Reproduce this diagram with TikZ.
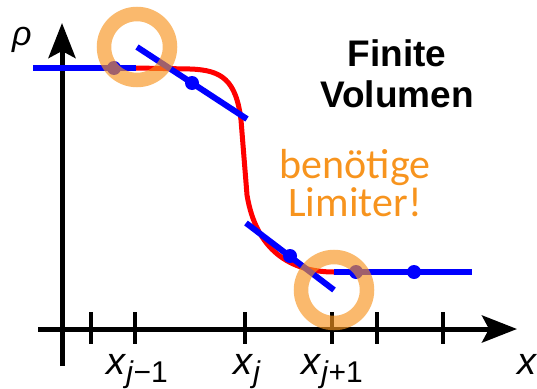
\documentclass[tikz,border=0pt]{standalone}
\usepackage{fontspec}
\setmainfont{Liberation Sans}
\newfontfamily\limfont{Carlito}
\usetikzlibrary{arrows.meta}
\definecolor{limorange}{RGB}{247,148,30}
\newcommand{\gridx}[1]{\textit{x}\raisebox{-8pt}{\fontsize{30}{30}\selectfont #1}}

\begin{document}
\begin{tikzpicture}[
        x=1pt, y=-1pt,
        axis/.style={line width=5pt, -{Stealth[length=35pt, width=27pt, inset=7pt]}},
        tick/.style={line width=4pt},
        exact/.style={red, line width=5pt},
        recon/.style={blue, line width=6pt},
        cellval/.style={blue},
        ring/.style={limorange, line width=14.5pt, opacity=0.65},
        lab/.style={font=\fontsize{38}{38}\selectfont, inner sep=0pt},
        title/.style={font=\bfseries\fontsize{37}{41}\selectfont, align=center, inner sep=0pt},
        note/.style={font=\limfont\fontsize{42}{42}\selectfont, text=limorange, inner sep=0pt, anchor=base},
    ]
        \useasboundingbox (0,0) rectangle (537,388);

        % axes and grid
        \draw[axis] (62,366) -- (62,23);
        \draw[axis] (38,329) -- (517,329);
        \foreach \t in {90.7,135,245,332,377,443}
            \draw[tick] (\t,312) -- (\t,344);

        \node[lab, anchor=base west] (rho) at (12,45) {\fontsize{34}{34}\selectfont\textit{ρ}};
        \node[lab, anchor=base west] (xlab) at (517,374) {\textit{x}};
        \node[lab, anchor=base west] (xjm) at (106,374) {\gridx{\textit{j}−1}};
        \node[lab, anchor=base west] (xj) at (233,374) {\gridx{\textit{j}}};
        \node[lab, anchor=base west] (xjp) at (301,374) {\gridx{\textit{j}+1}};

        % slope end points
        \coordinate (upA) at (137,47);
        \coordinate (upB) at (247,119);
        \coordinate (loA) at (246,223);
        \coordinate (loB) at (334,290);
        \coordinate (flatL) at (136,68);
        \coordinate (flatR) at (334,272);

        % exact solution
        \draw[exact] (flatL) -- (190,69) .. controls (222,70) and (236,80) .. (241,120)
            -- (247,195) .. controls (256,250) and (290,272) .. (flatR);

        % reconstruction
        \draw[recon] (33,68) -- (flatL);
        \draw[recon] (flatR) -- (472,272);
        \draw[recon] (upA) -- (upB);
        \draw[recon] (loA) -- (loB);
        \foreach \p in {(114,68),(192,83),(290,256),(356,272),(414,272)}
            \fill[cellval] \p circle (7);

        % rings
        \draw[ring] (upA) circle (33);
        \draw[ring] (loB) circle (33);

        \node[title] (fv) at (397,74) {Finite\\Volumen};
        \node[note] (lim1) at (355,178) {benötige};
        \node[note] (lim2) at (355,216) {Limiter!};
    \end{tikzpicture}
\end{document}
